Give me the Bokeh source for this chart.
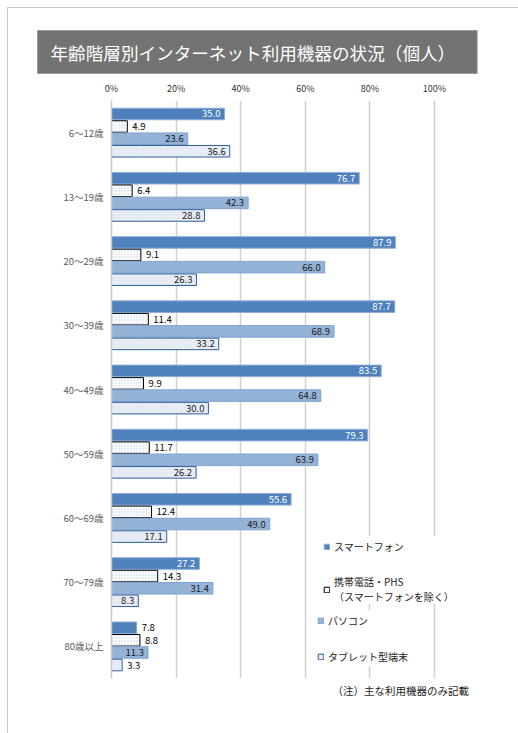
from bokeh.core.properties import value
from bokeh.embed import file_html
from bokeh.layouts import column
from bokeh.models import (ColumnDataSource, FactorRange, Range1d, Legend, Title, Div,
                          LegendItem, FixedTicker, PrintfTickFormatter)
from bokeh.plotting import figure
from bokeh.resources import INLINE
from bokeh.transform import dodge

FONT = "Noto Sans CJK JP"

# データ（%）
ages = ["6～12歳", "13～19歳", "20～29歳", "30～39歳", "40～49歳",
        "50～59歳", "60～69歳", "70～79歳", "80歳以上"]
smartphone = [35.0, 76.7, 87.9, 87.7, 83.5, 79.3, 55.6, 27.2, 7.8]
mobile = [4.9, 6.4, 9.1, 11.4, 9.9, 11.7, 12.4, 14.3, 8.8]
pc = [23.6, 42.3, 66.0, 68.9, 64.8, 63.9, 49.0, 31.4, 11.3]
tablet = [36.6, 28.8, 26.3, 33.2, 30.0, 26.2, 17.1, 8.3, 3.3]
x_ticks = [0, 20, 40, 60, 80, 100]

# 枠は100%より右まで取る（凡例が切れないように）
p = figure(width=518, height=733, output_backend="svg", toolbar_location=None,
           tools="", x_range=Range1d(0, 106.5),
           y_range=FactorRange(factors=list(reversed(ages))),
           x_axis_location="above",
           min_border_left=111, min_border_right=63,
           min_border_top=100, min_border_bottom=55)
p.outline_line_color = None
p.background_fill_color = "white"
p.border_fill_color = "white"

# (名前, 値, オフセット, 塗り, 線, ハッチ, ラベル色, 内側に書く下限)
series = [
    ("スマートフォン", smartphone, 0.29, "#4f81bd", "#8eaedb", None, "white", 10),
    ("携帯電話・PHS\n（スマートフォンを除く）", mobile, 0.095, "white", "black", "#b9cde5", "black", 999),
    ("パソコン", pc, -0.095, "#95b3d7", "#7fa3d0", None, "#1a1a1a", 10),
    ("タブレット型端末", tablet, -0.29, "#e9eef7", "#2e5f97", "#d3deee", "#1a1a1a", 5),
]

items = []
for name, vals, off, fill, line, hatch, lab_col, thr in series:
    src = ColumnDataSource(dict(age=ages, v=vals))
    kw = {}
    if hatch:
        kw = dict(hatch_pattern="dot", hatch_color=hatch, hatch_scale=3, hatch_weight=1)
    r = p.hbar(y=dodge("age", off, range=p.y_range), right="v", left=0, height=0.18,
               fill_color=fill, line_color=line, line_width=1, source=src, **kw)
    items.append(LegendItem(label=name, renderers=[r]))

    ins = [i for i, v in enumerate(vals) if v > thr]
    out = [i for i, v in enumerate(vals) if v <= thr]
    s_in = ColumnDataSource(dict(age=[ages[i] for i in ins], v=[vals[i] for i in ins],
                                 t=["%.1f" % vals[i] for i in ins]))
    s_out = ColumnDataSource(dict(age=[ages[i] for i in out], v=[vals[i] for i in out],
                                  t=["%.1f" % vals[i] for i in out]))
    p.text(x="v", y=dodge("age", off, range=p.y_range), text="t", source=s_in,
           text_align="right", text_baseline="middle", x_offset=-4,
           text_font=value(FONT), text_font_size="9.5px", text_color=lab_col)
    p.text(x="v", y=dodge("age", off, range=p.y_range), text="t", source=s_out,
           text_align="left", text_baseline="middle", x_offset=5,
           text_font=value(FONT), text_font_size="9.5px", text_color="black")

# 軸とグリッド
p.xaxis.ticker = FixedTicker(ticks=x_ticks)
p.xaxis.formatter = PrintfTickFormatter(format="%d%%")
p.xaxis.axis_line_color = None
p.xaxis.major_tick_line_color = None
p.xaxis.minor_tick_line_color = None
p.xaxis.major_tick_out = 0
p.xaxis.major_tick_in = 0
p.xaxis.major_label_standoff = 6
p.xaxis.major_label_text_font = FONT
p.xaxis.major_label_text_font_size = "9px"
p.xaxis.major_label_text_color = "#333333"

p.yaxis.axis_line_color = "#c8c8c8"
p.yaxis.axis_line_width = 1.5
p.yaxis.major_tick_line_color = None
p.yaxis.minor_tick_line_color = None
p.yaxis.major_tick_out = 0
p.yaxis.major_tick_in = 0
p.yaxis.major_label_standoff = 8
p.yaxis.major_label_text_font = FONT
p.yaxis.major_label_text_font_size = "9.5px"
p.yaxis.major_label_text_color = "#595959"

p.xgrid.ticker = FixedTicker(ticks=x_ticks)
p.xgrid.grid_line_color = "#d0d0d0"
p.xgrid.grid_line_width = 1.5
p.ygrid.grid_line_color = None

# 凡例（2つに分けて縦位置を合わせる）
leg_style = dict(background_fill_color="white", background_fill_alpha=1,
                 border_line_color=None, margin=0, glyph_width=7, glyph_height=7,
                 label_standoff=4, label_height=20, label_text_font=FONT,
                 label_text_font_size="10px", label_text_color="#1a1a1a")
leg_a = Legend(items=items[:2], location=(212, 74), padding=6, spacing=18, **leg_style)
leg_b = Legend(items=items[2:], location=(206, 12), padding=12, spacing=16, **leg_style)
p.add_layout(leg_a, "center")
p.add_layout(leg_b, "center")

# タイトル
p.add_layout(Title(text="年齢階層別インターネット利用機器の状況（個人）",
                   align="left", offset=-74, standoff=10,
                   text_font=FONT, text_font_size="17.6px", text_font_style="normal",
                   text_color="white", background_fill_color="#737373",
                   border_line_color="#9a9a9a", border_line_width=1,
                   padding=dict(left=13, right=22, top=9, bottom=9)), "above")

p.add_layout(Title(text="（注）主な利用機器のみ記載", align="left", offset=221,
                   standoff=5, text_font=FONT, text_font_size="10.5px",
                   text_font_style="normal", text_color="#1a1a1a"), "below")

# 外枠（図の上に重ねる枠線だけの要素）
frame_box = Div(text="", width=515, height=730,
                styles={"position": "absolute", "left": "2px", "top": "2px",
                        "border": "1px solid #c8c8c8", "box-sizing": "border-box",
                        "pointer-events": "none"})

page = column(p, frame_box, spacing=0)

open("out.html", "w").write(file_html(page, INLINE))
